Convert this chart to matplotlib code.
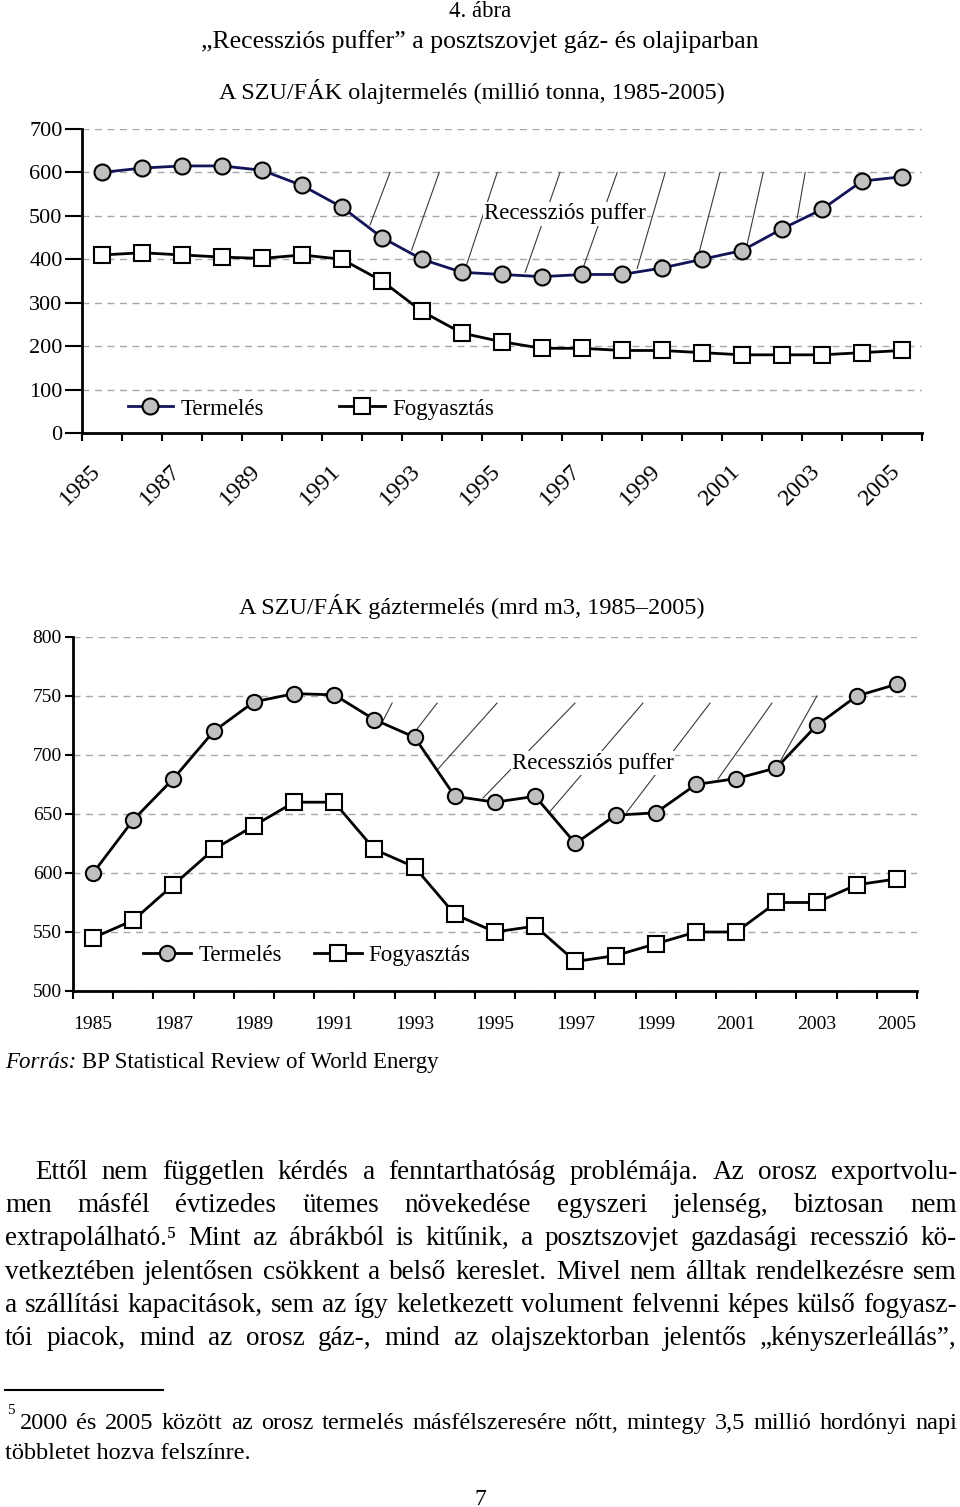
import numpy as np
import matplotlib
matplotlib.use('Agg')
import matplotlib.pyplot as plt
from matplotlib.transforms import ScaledTranslation

plt.rcParams['font.family'] = ['Liberation Serif', 'DejaVu Serif']

# --- data -------------------------------------------------------------
years = list(range(1985, 2006))
oil_prod = [600, 610, 615, 615, 605, 570, 520, 450, 400, 370, 365,
            360, 365, 365, 380, 400, 420, 470, 515, 580, 590]
oil_cons = [410, 415, 410, 405, 402, 410, 400, 350, 280, 230, 210,
            195, 195, 190, 190, 185, 180, 180, 180, 185, 190]
gas_prod = [600, 645, 680, 720, 745, 752, 751, 730, 715, 665, 660,
            665, 625, 649, 651, 675, 680, 689, 725, 750, 760]
gas_cons = [545, 560, 590, 620, 640, 660, 660, 620, 605, 565, 550,
            555, 525, 530, 540, 550, 550, 575, 575, 590, 595]

# "Recessziós puffer" hatch strokes (start / end position on the category axis)
oil_hatch_x0 = [6.70, 7.74, 9.08, 10.58, 12.00, 13.38, 14.90, 16.13, 17.38]
oil_hatch_x1 = [7.20, 8.43, 9.88, 11.45, 12.88, 14.08, 15.45, 16.53, 17.58]
oil_hatch_top = [600] * 9
gas_hatch_x0 = [7.21, 7.96, 8.58, 9.70, 11.37, 13.28, 15.55, 17.09]
gas_hatch_x1 = [7.44, 8.56, 10.05, 11.99, 13.68, 15.35, 16.89, 18.01]
gas_hatch_top = [744, 744, 744, 744, 744, 744, 744, 750]

body_lines = [
    "Ettől nem független kérdés a fenntarthatóság problémája. Az orosz exportvolu-",
    "men másfél évtizedes ütemes növekedése egyszeri jelenség, biztosan nem",
    "extrapolálható.⁵ Mint az ábrákból is kitűnik, a posztszovjet gazdasági recesszió kö-",
    "vetkeztében jelentősen csökkent a belső kereslet. Mivel nem álltak rendelkezésre sem",
    "a szállítási kapacitások, sem az így keletkezett volument felvenni képes külső fogyasz-",
    "tói piacok, mind az orosz gáz-, mind az olajszektorban jelentős „kényszerleállás”,",
]
foot_lines = [
    "2000 és 2005 között az orosz termelés másfélszeresére nőtt, mintegy 3,5 millió hordónyi napi",
    "többletet hozva felszínre.",
]

W, H = 960, 1507
fig = plt.figure(figsize=(W / 100, H / 100), dpi=100)
renderer = fig.canvas.get_renderer()


def fy(y):
    return 1 - y / H


idx = np.arange(len(years))
grid_kw = dict(color='#a8a8a8', linestyle=(0, (5, 4)), linewidth=1)


def setup_axis(ax, ylim, ystep, ylab_size, ytick_len):
    ax.set_xlim(-0.5, len(years) - 0.5)
    ax.set_ylim(*ylim)
    ax.set_yticks(np.arange(ylim[0], ylim[1] + 1, ystep))
    ax.yaxis.grid(True, **grid_kw)
    ax.set_axisbelow(True)
    for s in ['top', 'right']:
        ax.spines[s].set_visible(False)
    for s in ['left', 'bottom']:
        ax.spines[s].set_linewidth(2)
    ax.set_xticks(np.arange(-0.5, len(years), 1))
    ax.set_xticklabels([])
    ax.set_xticks(idx[::2], minor=True)
    ax.tick_params(axis='x', which='major', length=6, width=1.5)
    ax.tick_params(axis='x', which='minor', length=0)
    ax.tick_params(axis='y', length=ytick_len, width=1.5, labelsize=ylab_size, pad=2)


def hatch(ax, x0s, x1s, tops, curve, gap):
    for x0, x1, top in zip(x0s, x1s, tops):
        y0 = np.interp(x0, idx, curve) + gap
        ax.plot([x0, x1], [y0, top], color='#3a3a3a', lw=0.8, zorder=1.5)


# --- oil chart ----------------------------------------------------------
ax1 = fig.add_axes([82 / W, 1 - 433 / H, 840 / W, 304 / H])
setup_axis(ax1, (0, 700), 100, 16, 12)
ax1.set_xticklabels([str(y) for y in years[::2]], minor=True, rotation=45,
                    ha='right', va='center', rotation_mode='anchor', fontsize=17.5)
ax1.tick_params(axis='x', which='minor', pad=25)
for lab in ax1.get_xticklabels(minor=True):
    lab.set_transform(lab.get_transform() + ScaledTranslation(-0.05, 0, fig.dpi_scale_trans))

hatch(ax1, oil_hatch_x0, oil_hatch_x1, oil_hatch_top, oil_prod, 8)
ax1.plot(idx, oil_prod, color='#14145a', lw=2, marker='o', ms=11.5,
         mfc='#c0c0c0', mec='black', mew=1.5, zorder=3, label='Termelés')
ax1.plot(idx, oil_cons, color='black', lw=2, marker='s', ms=11,
         mfc='white', mec='black', mew=1.5, zorder=3, label='Fogyasztás')
ax1.text(11.575, 505, 'Recessziós puffer', ha='center', va='center', fontsize=16.5,
         bbox=dict(fc='white', ec='none', pad=1), zorder=2)
ax1.legend(loc='center left', bbox_to_anchor=(0.046, 0.079), ncol=2, frameon=True,
           fancybox=False, edgecolor='none', facecolor='white', framealpha=1,
           fontsize=16.5, handlelength=2.0, handletextpad=0.3, columnspacing=3.3,
           borderpad=0.3, borderaxespad=0)

# --- gas chart ----------------------------------------------------------
ax2 = fig.add_axes([73 / W, 1 - 991 / H, 844 / W, 354 / H])
setup_axis(ax2, (500, 800), 50, 14, 6)
ax2.set_xticklabels([str(y) for y in years[::2]], minor=True, fontsize=14)
ax2.tick_params(axis='x', which='minor', pad=18)

hatch(ax2, gas_hatch_x0, gas_hatch_x1, gas_hatch_top, gas_prod, 2)
ax2.plot(idx, gas_prod, color='black', lw=2, marker='o', ms=11,
         mfc='#c0c0c0', mec='black', mew=1.5, zorder=3, label='Termelés')
ax2.plot(idx, gas_cons, color='black', lw=2, marker='s', ms=11,
         mfc='white', mec='black', mew=1.5, zorder=3, label='Fogyasztás')
ax2.text(12.44, 693, 'Recessziós puffer', ha='center', va='center', fontsize=16.5,
         bbox=dict(fc='white', ec='none', pad=1), zorder=2)
ax2.legend(loc='center left', bbox_to_anchor=(0.075, 0.10), ncol=2, frameon=False,
           fontsize=16.5, handlelength=2.1, handletextpad=0.3, columnspacing=1.4,
           borderpad=0.3, borderaxespad=0)

# --- page text ------------------------------------------------------------
fig.text(0.5, fy(17), '4. ábra', ha='center', va='baseline', fontsize=16.5)
fig.text(0.5, fy(48), '„Recessziós puffer” a posztszovjet gáz- és olajiparban',
         ha='center', va='baseline', fontsize=18.5)
fig.text(472 / W, fy(99), 'A SZU/FÁK olajtermelés (millió tonna, 1985-2005)',
         ha='center', va='baseline', fontsize=17.5)
fig.text(472 / W, fy(614), 'A SZU/FÁK gáztermelés (mrd m3, 1985–2005)',
         ha='center', va='baseline', fontsize=17.5)

t = fig.text(5 / W, fy(1068), 'Forrás:', style='italic', va='baseline', fontsize=16.5)
wf = t.get_window_extent(renderer).width
fig.text((5 + wf) / W, fy(1068), ' BP Statistical Review of World Energy',
         va='baseline', fontsize=16.5)


def justify(s, x0, x1, y, size):
    words = s.split(' ')
    texts = [fig.text(0, fy(y), w, va='baseline', fontsize=size) for w in words]
    widths = [tt.get_window_extent(renderer).width for tt in texts]
    gap = (x1 - x0 - sum(widths)) / max(len(words) - 1, 1)
    x = x0
    for tt, w in zip(texts, widths):
        tt.set_x(x / W)
        x += w + gap


body_size = 19.5
for i, line in enumerate(body_lines):
    x0 = 35 if i == 0 else 5
    justify(line, x0, 957, 1179 + i * 33.2, body_size)

fig.add_artist(plt.Line2D([5 / W, 163 / W], [fy(1390), fy(1390)], color='black', lw=1.5))
fig.text(7 / W, fy(1414), '5', va='baseline', fontsize=11)
justify(foot_lines[0], 20, 957, 1429, 17.5)
fig.text(5 / W, fy(1459), foot_lines[1], va='baseline', fontsize=17.5)
fig.text(0.5, fy(1505), '7', ha='center', va='baseline', fontsize=17)

fig.savefig('out.png', dpi=100)
